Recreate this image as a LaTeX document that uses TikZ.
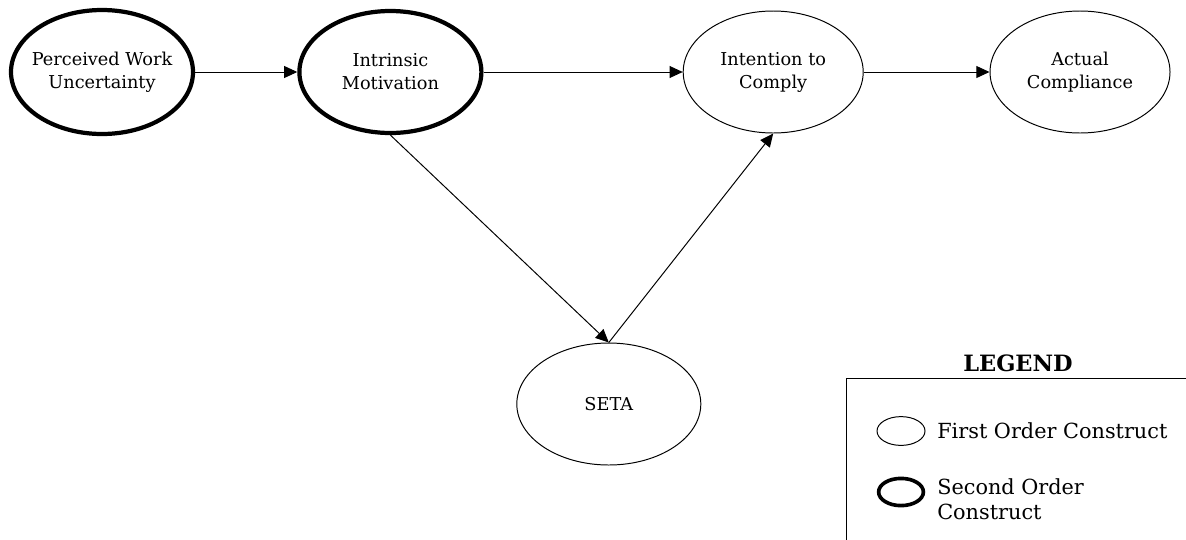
\documentclass[tikz,border=0pt]{standalone}
\usepackage{fontspec}
\setmainfont{DejaVu Serif}
\usetikzlibrary{shapes.geometric,arrows.meta}

\begin{document}
\begin{tikzpicture}[
    first/.style={draw, ellipse, line width=0.7pt, align=center, inner sep=0pt, minimum width=4.5cm, minimum height=3.05cm, font=\fontsize{12.6}{16.4}\selectfont},
    second/.style={first, line width=3pt},
    conn/.style={-{Triangle[length=0.33cm,width=0.3cm]}, line width=0.7pt},
    legtext/.style={align=left, anchor=west, inner sep=0pt, font=\fontsize{14.8}{17.8}\selectfont}
]
    \useasboundingbox (0,0) rectangle (29.65,-13.475);
    \node[second, inner xsep=-0.25cm, minimum width=4.55cm, minimum height=3.1cm] (1) at (2.55,-1.8) {Perceived Work\\Uncertainty};
    \node[second, minimum width=4.55cm, minimum height=3.05cm] (2) at (9.76,-1.8) {Intrinsic\\Motivation};
    \node[first] (3) at (19.33,-1.8) {Intention to\\Comply};
    \node[first] (4) at (27,-1.8) {Actual\\Compliance};
    \node[first, minimum width=4.6cm] (5) at (15.22,-10.1) {SETA};
    \path[conn] (1) edge (2);
    \path[conn] (2) edge (3);
    \path[conn] (3) edge (4);
    \path[conn] (2.south) edge (5.north);
    \path[conn] (5.north) edge (3.south);
    % legend
    \node[font=\bfseries\fontsize{16}{18}\selectfont] (6) at (25.45,-9.075) {LEGEND};
    \draw[line width=0.7pt] (21.15,-13.6) |- (29.8,-9.45);
    \node[first, minimum width=1.2cm, minimum height=0.72cm] (7) at (22.525,-10.775) {};
    \node[second, line width=2.6pt, minimum width=1.12cm, minimum height=0.68cm] (8) at (22.525,-12.3) {};
    \node[legtext] (9) at (23.425,-10.775) {First Order Construct};
    \node[legtext] (10) at (23.425,-12.47) {Second Order\\Construct};
\end{tikzpicture}
\end{document}
